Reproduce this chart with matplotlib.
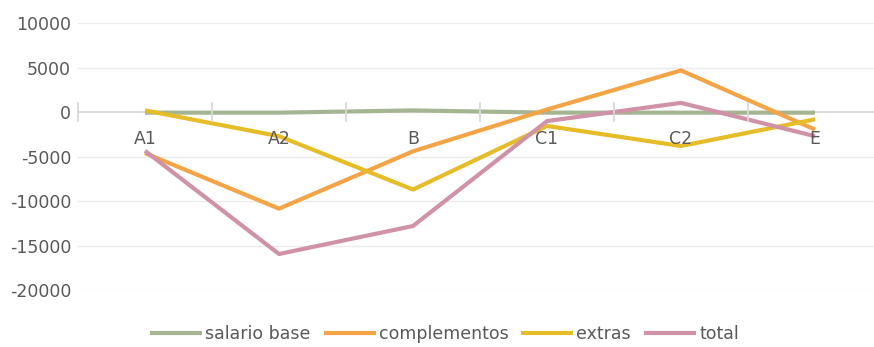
import matplotlib
matplotlib.use("Agg")
import matplotlib.pyplot as plt
import numpy as np

categories = ["A1", "A2", "B", "C1", "C2", "E"]
salario_base = [-50, -50, 200, -50, -50, -50]
complementos = [-4600, -10850, -4400, 300, 4700, -1950]
extras = [200, -2700, -8700, -1550, -3800, -800]
total = [-4350, -15950, -12800, -1000, 1050, -2700]

series_names = ["salario base", "complementos", "extras", "total"]
series_colors = ["#a5b592", "#f3a447", "#e7bc29", "#d092a7"]
y_ticks = [-20000, -15000, -10000, -5000, 0, 5000, 10000]

fig = plt.figure(figsize=(8.74, 3.47), dpi=100)
ax = fig.add_axes([78 / 874, 1 - 290 / 347, 804 / 874, (290 - 23.3) / 347])

x = np.arange(len(categories))
for vals, name, col in zip([salario_base, complementos, extras, total], series_names, series_colors):
    ax.plot(x, vals, color=col, lw=3.0, label=name, solid_capstyle="butt", solid_joinstyle="miter", zorder=3)

ax.set_xlim(-0.5, len(categories) - 0.5)
ax.set_ylim(-20000, 10000)

ax.set_yticks(y_ticks)
ax.set_yticklabels([str(v) for v in y_ticks])
ax.grid(axis="y", color="#ebebeb", lw=1, zorder=0)
ax.tick_params(axis="y", length=0, pad=5, labelsize=12.5, labelcolor="#595959")

for s in ["left", "right", "top"]:
    ax.spines[s].set_visible(False)
ax.spines["bottom"].set_position(("data", 0))
ax.spines["bottom"].set_color("#d9d9d9")
ax.spines["bottom"].set_linewidth(1.3)
ax.spines["bottom"].set_zorder(2)

ax.set_xticks(x)
ax.set_xticklabels(categories)
ax.set_xticks(np.arange(-0.5, len(categories), 1.0), minor=True)
ax.tick_params(axis="x", which="major", length=0, pad=12.5, labelsize=12.5, labelcolor="#595959")
ax.tick_params(axis="x", which="minor", direction="inout", length=14, width=1.3, color="#d9d9d9")
# category labels sit on top of the series lines
ax.xaxis.set_zorder(4)

leg = fig.legend(loc="center", bbox_to_anchor=(444.5 / 874, 1 - 334 / 347), ncol=4, frameon=False,
                 handlelength=3.0, handletextpad=0.17, columnspacing=0.75,
                 prop={"family": "DejaVu Sans", "size": 12.5})
for t in leg.get_texts():
    t.set_color("#595959")

fig.savefig("out.png", dpi=100)
